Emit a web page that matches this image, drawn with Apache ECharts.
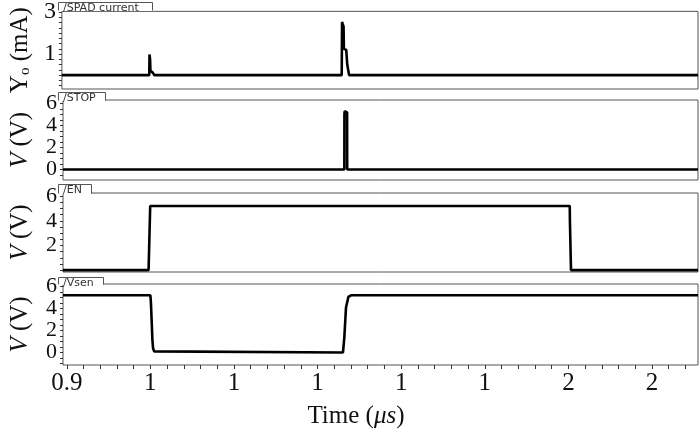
<!DOCTYPE html>
<html>
<head>
<meta charset="utf-8">
<script src="https://cdn.jsdelivr.net/npm/echarts@6/dist/echarts.min.js"></script>
<style>html,body{margin:0;padding:0;background:#fff}#c{width:700px;height:438px}</style>
</head>
<body>
<div id="c"></div>
<script>
// ---- data (x in microseconds) ----
const spadCurrent = [[0.8955,0],[0.9998,0],[1.0001,0.98],[1.0008,0.75],[1.0012,0.2],[1.0040,0.12],[1.0058,0],
  [1.2296,0],[1.2300,2.53],[1.2310,2.45],[1.2318,2.3],[1.2322,1.25],[1.2350,1.2],[1.2362,0.5],[1.2384,0],[1.655,0]];
const stopV = [[0.8955,0],[1.2320,0],[1.2321,5.1],[1.2325,5.3],[1.2353,5.2],[1.2354,0],[1.655,0]];
const enV = [[0.8955,0],[0.9978,0],[0.9980,0.35],[0.9995,0.4],[0.9998,5.2],[1.5016,5.2],[1.5018,4.0],[1.5028,4.0],[1.5031,0],[1.655,0]];
const vsenV = [[0.8955,5.2],[1.0000,5.2],[1.0006,4.6],[1.0016,2.8],[1.0024,1.2],[1.0032,0.4],[1.0045,0.1],[1.0068,0],
  [1.2304,0],[1.2320,1.4],[1.2340,4.1],[1.2368,5.05],[1.2400,5.2],[1.655,5.2]];

const seriesNames = ['/SPAD current','/STOP','/EN','/Vsen'];
const xTickValues = [0.9,1.0,1.1,1.2,1.3,1.4,1.5,1.6];
const xTickLabels = ['0.9','1','1','1','1','1','2','2'];
const yLabelValues = [[1,3],[0,2,4,6],[2,4,6],[0,2,4,6]];
const yRanges = [[-0.66,3.03],[-0.95,6.32],[-0.15,6.25],[-1.14,6.23]];
const yMinorStep = [0.25,0.5,0.5,0.5];
const xRange = [0.8955,1.655];

// ---- layout ----
const grids = [{top:10,height:79},{top:100,height:80},{top:193,height:79},{top:284,height:81}];
const tabs = [{y:2,w:94},{y:92,w:47},{y:184,w:33},{y:277,w:45}];
const L = 58, R = 2;
const serif = 'Liberation Serif';

function range(a,b,s){const r=[];for(let v=a;v<=b+1e-9;v+=s)r.push(+v.toFixed(4));return r;}

const option = {
  animation:false,
  backgroundColor:'#fff',
  grid: grids.map(g=>({left:L,right:R,top:g.top,height:g.height,show:true,borderColor:'#555',borderWidth:1,backgroundColor:'transparent'})),
  xAxis: [],
  yAxis: [],
  series: [],
  graphic: []
};
const datas=[spadCurrent,stopV,enV,vsenV];
const xMinor = range(0.9,1.64,0.02);
for(let i=0;i<4;i++){
  const last = i===3;
  option.xAxis.push({type:'value',gridIndex:i,position:'bottom',min:xRange[0],max:xRange[1],
    axisLine:{show:false,onZero:false},splitLine:{show:false},
    axisTick:{show:last,customValues:xMinor,length:4,lineStyle:{color:'#333'}},
    axisLabel:{show:last,customValues:xTickValues,margin:6,color:'#111',fontFamily:serif,fontSize:25,
      formatter:(v)=>{const k=xTickValues.findIndex(t=>Math.abs(t-v)<1e-6);return k>=0?xTickLabels[k]:'';}}
  });
  const yMinor = range(Math.ceil(yRanges[i][0]/yMinorStep[i])*yMinorStep[i],yRanges[i][1],yMinorStep[i]);
  const yn = i===0 ? '{a|Y}{s|o}{a| (mA)}' : '{i|V}{a| (V)}';
  option.yAxis.push({type:'value',gridIndex:i,position:'left',min:yRanges[i][0],max:yRanges[i][1],
    axisLine:{show:false,onZero:false},splitLine:{show:false},
    axisTick:{show:true,customValues:yMinor,length:3,lineStyle:{color:'#333'}},
    axisLabel:{customValues:yLabelValues[i],margin:6,color:'#111',fontFamily:serif,fontSize:i===0?24:22},
    name:yn,nameLocation:'middle',nameRotate:90,nameGap:i===0?28:30,
    nameTextStyle:{rich:{
      a:{fontFamily:serif,fontSize:25,color:'#111'},
      i:{fontFamily:serif,fontSize:25,fontStyle:'italic',color:'#111'},
      s:{fontFamily:serif,fontSize:15,color:'#111',verticalAlign:'bottom',padding:[10,0,0,0]}
    }}
  });
  option.series.push({type:'line',name:seriesNames[i],xAxisIndex:i,yAxisIndex:i,data:datas[i],
    showSymbol:false,lineStyle:{color:'#000',width:2.6},z:3});
}

// tabs with series names
for(let i=0;i<4;i++){
  const t=tabs[i], g=grids[i];
  option.graphic.push({type:'rect',shape:{x:L+1,y:t.y+1,width:t.w-1,height:g.top-t.y},style:{fill:'#fff'},z:10});
  option.graphic.push({type:'polyline',shape:{points:[[L+0.5,g.top+0.5],[L+0.5,t.y+0.5],[L+t.w+0.5,t.y+0.5],[L+t.w+0.5,g.top+0.5]]},style:{stroke:'#555',lineWidth:1,fill:null},z:11});
  option.graphic.push({type:'text',x:L+5,y:t.y+1,style:{text:seriesNames[i],font:'11px "DejaVu Sans"',fill:'#333'},z:12});
}
option.graphic.push({type:'text',x:356,y:416,style:{text:'{a|Time (}{i|μs}{a|)}',align:'center',verticalAlign:'middle',
  rich:{a:{fontFamily:serif,fontSize:25,fill:'#111'},i:{fontFamily:serif,fontSize:25,fontStyle:'italic',fill:'#111'}}},z:12});

const chart = echarts.init(document.getElementById('c'),null,{renderer:'canvas'});
chart.setOption(option);
</script>
</body>
</html>
